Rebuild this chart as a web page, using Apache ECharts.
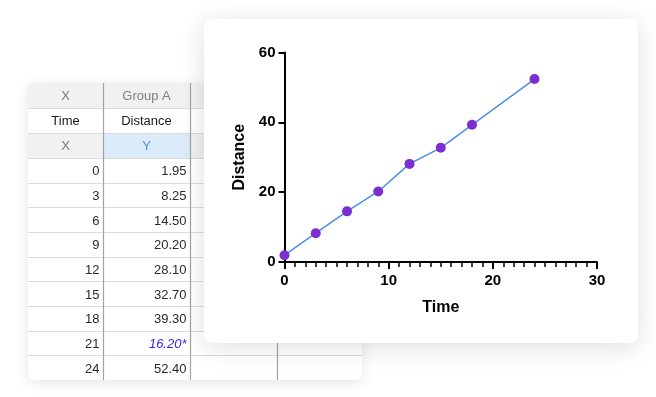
<!DOCTYPE html>
<html>
<head>
<meta charset="utf-8">
<script src="https://cdn.jsdelivr.net/npm/echarts@6/dist/echarts.min.js"></script>
<style>
html,body{margin:0;padding:0;background:#fff;}
#chart{width:656px;height:397px;}
</style>
</head>
<body>
<div id="chart"></div>
<script>
// ---- data ----
const times = [0, 3, 6, 9, 12, 15, 18, 21, 24];
const distances = [1.95, 8.25, 14.50, 20.20, 28.10, 32.70, 39.30, 16.20, 52.40];
const excluded = [false, false, false, false, false, false, false, true, false];
const tableHeaderX = 'X';
const groupName = 'Group A';
const xTitle = 'Time';
const yTitle = 'Distance';
const roleX = 'X';
const roleY = 'Y';
const xTickValues = [0, 10, 20, 30];
const yTickValues = [0, 20, 40, 60];

// ---- layout ----
const FONT = '"Liberation Sans", Arial, Helvetica, sans-serif';
const T = {left: 28, right: 362, top: 83, bottom: 380};
const colX = [28, 103, 190, 277, 362];
const headH = 25;
const rowH = (T.bottom - (T.top + 3 * headH)) / times.length;

const g = [];
// table card
g.push({type: 'rect', zlevel: 0, z: 0,
  shape: {x: T.left, y: T.top, width: T.right - T.left, height: T.bottom - T.top, r: [3, 3, 6, 6]},
  style: {fill: '#fff', shadowBlur: 14, shadowColor: 'rgba(0,0,0,0.10)', shadowOffsetY: 3}});
// header backgrounds
g.push({type: 'rect', zlevel: 0, z: 1, shape: {x: T.left, y: T.top, width: T.right - T.left, height: headH, r: [3, 3, 0, 0]}, style: {fill: '#f1f1f1'}});
g.push({type: 'rect', zlevel: 0, z: 1, shape: {x: colX[0], y: T.top + 2 * headH, width: colX[1] - colX[0], height: headH}, style: {fill: '#f1f1f1'}});
g.push({type: 'rect', zlevel: 0, z: 1, shape: {x: colX[1], y: T.top + 2 * headH, width: colX[2] - colX[1], height: headH}, style: {fill: '#dcebfa'}});
g.push({type: 'rect', zlevel: 0, z: 1, shape: {x: colX[2], y: T.top + 2 * headH, width: T.right - colX[2], height: headH}, style: {fill: '#f1f1f1'}});
// horizontal lines
const hLines = [T.top + headH, T.top + 2 * headH, T.top + 3 * headH];
for (let i = 1; i < times.length; i++) hLines.push(T.top + 3 * headH + i * rowH);
hLines.forEach(y => g.push({type: 'line', zlevel: 0, z: 2,
  shape: {x1: T.left, y1: Math.round(y) + 0.5, x2: T.right, y2: Math.round(y) + 0.5},
  style: {stroke: '#dcdcdc', lineWidth: 1}}));
// vertical lines
[colX[1], colX[2], colX[3]].forEach(x => g.push({type: 'line', zlevel: 0, z: 2,
  shape: {x1: x + 0.5, y1: T.top, x2: x + 0.5, y2: T.bottom},
  style: {stroke: '#a3a3a3', lineWidth: 1.2}}));
// header texts
function txt(text, x, y, align, fill, extra) {
  return Object.assign({type: 'text', zlevel: 0, z: 3, x: x, y: y,
    style: {text: text, font: '13px ' + FONT, fill: fill, align: align, verticalAlign: 'middle'}}, extra || {});
}
const c1 = (colX[0] + colX[1]) / 2, c2 = (colX[1] + colX[2]) / 2;
g.push(txt(tableHeaderX, c1, T.top + headH / 2 + 1, 'center', '#7a7a7a'));
g.push(txt(groupName, c2, T.top + headH / 2 + 1, 'center', '#808080'));
g.push(txt(xTitle, c1, T.top + 1.5 * headH + 1, 'center', '#1a1a1a'));
g.push(txt(yTitle, c2, T.top + 1.5 * headH + 1, 'center', '#1a1a1a'));
g.push(txt(roleX, c1, T.top + 2.5 * headH + 1, 'center', '#7a7a7a'));
g.push(txt(roleY, c2, T.top + 2.5 * headH + 1, 'center', '#4a90e2'));
// data rows
times.forEach((t, i) => {
  const y = T.top + 3 * headH + (i + 0.5) * rowH + 1.5;
  g.push(txt(String(t), colX[1] - 3.5, y, 'right', '#2a2a2a'));
  const label = distances[i].toFixed(2) + (excluded[i] ? '*' : '');
  const el = txt(label, colX[2] - 3.5, y, 'right', excluded[i] ? '#3a1ff2' : '#2a2a2a');
  if (excluded[i]) el.style.font = 'italic 13px ' + FONT;
  g.push(el);
});
// chart card
g.push({type: 'rect', zlevel: 0, z: 5,
  shape: {x: 204, y: 19, width: 434, height: 324, r: 8},
  style: {fill: '#fff', shadowBlur: 26, shadowColor: 'rgba(0,0,0,0.13)', shadowOffsetY: 4}});

const seriesData = [];
times.forEach((t, i) => { if (!excluded[i]) seriesData.push([t, distances[i]]); });

const chart = echarts.init(document.getElementById('chart'), null, {renderer: 'canvas'});
chart.setOption({
  animation: false,
  backgroundColor: '#fff',
  graphic: {elements: g},
  grid: {left: 284.5, right: 59, top: 52.5, bottom: 135, containLabel: false, zlevel: 1},
  xAxis: {
    type: 'value', min: xTickValues[0], max: xTickValues[xTickValues.length - 1], interval: 10, zlevel: 1,
    name: xTitle, nameLocation: 'middle', nameGap: 38,
    nameTextStyle: {fontSize: 16, fontWeight: 'bold', color: '#000', fontFamily: FONT},
    axisLine: {lineStyle: {color: '#000', width: 2}},
    axisTick: {length: 7, lineStyle: {color: '#000', width: 2}},
    minorTick: {show: true, splitNumber: 10, length: 5, lineStyle: {color: '#000', width: 1.5}},
    splitLine: {show: false},
    axisLabel: {fontSize: 15, fontWeight: 'bold', color: '#000', margin: 11, fontFamily: FONT}
  },
  yAxis: {
    type: 'value', min: yTickValues[0], max: yTickValues[yTickValues.length - 1], interval: 20, zlevel: 1,
    name: yTitle, nameLocation: 'middle', nameGap: 37,
    nameTextStyle: {fontSize: 16, fontWeight: 'bold', color: '#000', fontFamily: FONT},
    axisLine: {show: true, lineStyle: {color: '#000', width: 2}},
    axisTick: {show: true, length: 6, lineStyle: {color: '#000', width: 2}},
    splitLine: {show: false},
    axisLabel: {fontSize: 15, fontWeight: 'bold', color: '#000', margin: 9, fontFamily: FONT}
  },
  series: [{
    type: 'line', zlevel: 1, data: seriesData,
    symbol: 'circle', symbolSize: 10, showSymbol: true,
    itemStyle: {color: '#7b2fd0'},
    lineStyle: {color: '#4a90e8', width: 1.5}
  }]
});
</script>
</body>
</html>
